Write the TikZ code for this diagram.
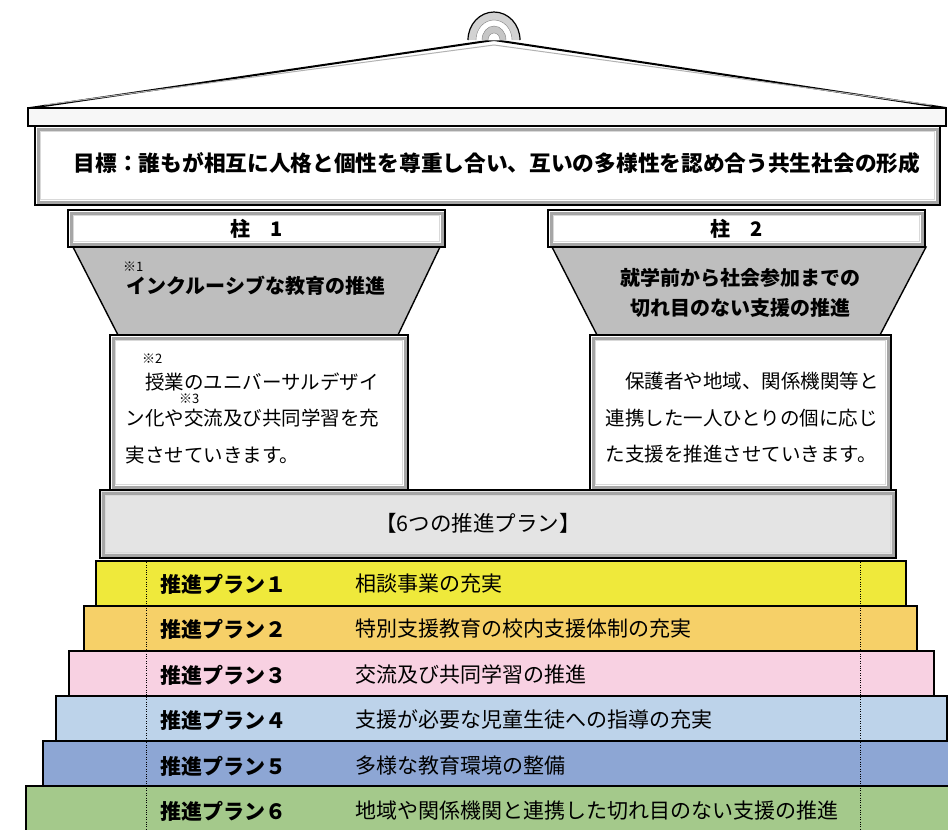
\documentclass[tikz,border=0pt]{standalone}
\usepackage{fontspec}
\newfontfamily\jp{Noto Sans CJK JP}
\usetikzlibrary{positioning}

\definecolor{planyellow}{HTML}{EFE93B}
\definecolor{planorange}{HTML}{F6D068}
\definecolor{planpink}{HTML}{F8D1E2}
\definecolor{planlight}{HTML}{BDD3EA}
\definecolor{planblue}{HTML}{8DA6D4}
\definecolor{plangreen}{HTML}{A4C98B}
\definecolor{capgray}{HTML}{BEBEBE}
\definecolor{bargray}{HTML}{E4E4E4}

\tikzset{
  bevel/.style={draw=black, line width=1.6pt, fill=white, inner sep=0pt,
    path picture={
      \draw[gray!70, line width=3pt]
        ([shift={(3pt,-3pt)}]path picture bounding box.north west) rectangle
        ([shift={(-3pt,3pt)}]path picture bounding box.south east);
      \draw[gray!30, line width=1.5pt]
        ([shift={(5.5pt,-5.5pt)}]path picture bounding box.north west) rectangle
        ([shift={(-5.5pt,5.5pt)}]path picture bounding box.south east);
    }},
  stair/.style={draw=black, line width=1.6pt, anchor=north west, inner sep=0pt, minimum height=45pt},
  trap/.style={draw=black, line width=1.4pt, fill=capgray},
  plan/.style={anchor=west, font=\jp\bfseries\fontsize{21}{24}\selectfont},
  item/.style={anchor=west, font=\jp\fontsize{21}{24}\selectfont},
  head/.style={font=\jp\bfseries\fontsize{20}{30}\selectfont, align=center},
  body/.style={anchor=west, align=left, font=\jp\fontsize{19.5}{36.5}\selectfont},
  note/.style={anchor=west, inner sep=0pt, font=\jp\fontsize{13}{14}\selectfont},
}

\begin{document}
\begin{tikzpicture}[x=1pt, y=-1pt]
\useasboundingbox (0,0) rectangle (948,830);
\clip (0,0) rectangle (948,830);

\filldraw[fill=white, line width=2pt] (30,108) -- (494,40) -- (946,108);
\draw[gray!60, line width=1pt] (44,105) -- (494,45) -- (932,105);
\filldraw[fill=gray!35, line width=1.2pt] (468,40) arc (180:360:26 and 28);
\filldraw[fill=white, draw=gray] (476,40) arc (180:360:18 and 20);
\filldraw[fill=gray!45, draw=gray] (482,40) arc (180:360:12 and 14);
\filldraw[fill=white, draw=gray] (488,40) arc (180:360:6 and 7);

\draw[fill=gray!6, line width=1.8pt] (28,108) rectangle (946,126);

\node(goal) at (487.5, 165.5) [bevel, minimum width=905pt, minimum height=79pt] {};
\node(goaltxt) at (497, 163) [head, font=\jp\bfseries\fontsize{21.7}{26}\selectfont] {目標：誰もが相互に人格と個性を尊重し合い、互いの多様性を認め合う共生社会の形成};

\draw[trap] (73,247) -- (440,247) -- (398,335) -- (118,335) -- cycle;
\draw[trap] (552,247) -- (926,247) -- (880,335) -- (597,335) -- cycle;

\node(head1) at (256.5, 228.5) [bevel, head, minimum width=377pt, minimum height=37pt] {柱　1};
\node(head2) at (736.5, 228.5) [bevel, head, minimum width=377pt, minimum height=37pt] {柱　2};

\node(cap1) at (256, 286) [head] {インクルーシブな教育の推進};
\node(mark1) at (123, 267) [note] {※1};
\node(cap2) at (740, 293) [head] {就学前から社会参加までの\\切れ目のない支援の推進};

\node(body1) at (259, 412.5) [bevel, minimum width=298pt, minimum height=155pt] {};
\node(body2) at (740.5, 412.5) [bevel, minimum width=301pt, minimum height=155pt] {};
\node(body1txt) at (122, 418) [body] {　授業のユニバーサルデザイ\\ン化や交流及び共同学習を充\\実させていきます。};
\node(mark2) at (142, 359) [note] {※2};
\node(mark3) at (179, 399) [note] {※3};
\node(body2txt) at (602, 418) [body] {　保護者や地域、関係機関等と\\連携した一人ひとりの個に応じ\\た支援を推進させていきます。};

\node(plans) at (498, 524) [bevel, fill=bargray, minimum width=796pt, minimum height=68pt] {};
\node(planstxt) at (478, 523) [font=\jp\fontsize{21.5}{24}\selectfont] {【6つの推進プラン】};

\node(s1) at (95, 560) [stair, fill=planyellow, minimum width=810pt] {};
\node(s2) at (83, 605) [stair, fill=planorange, minimum width=833pt] {};
\node(s3) at (68, 650) [stair, fill=planpink, minimum width=865pt] {};
\node(s4) at (55, 695) [stair, fill=planlight, minimum width=891pt] {};
\node(s5) at (42, 740) [stair, fill=planblue, minimum width=918pt] {};
\node(s6) at (25, 785) [stair, fill=plangreen, minimum width=935pt, minimum height=50pt] {};

\coordinate(dl1) at (146, 560);
\coordinate(dl2) at (146, 830);
\coordinate(dr1) at (860, 560);
\coordinate(dr2) at (860, 830);
\draw[dotted, thin] (dl1) to (dl2);
\draw[dotted, thin] (dr1) to (dr2);

\node(p1) at (157, 584) [plan] {推進プラン１};
\node(i1) at (352, 584) [item] {相談事業の充実};
\node(p2) at (157, 629) [plan] {推進プラン２};
\node(i2) at (352, 629) [item] {特別支援教育の校内支援体制の充実};
\node(p3) at (157, 675) [plan] {推進プラン３};
\node(i3) at (352, 675) [item] {交流及び共同学習の推進};
\node(p4) at (157, 720) [plan] {推進プラン４};
\node(i4) at (352, 720) [item] {支援が必要な児童生徒への指導の充実};
\node(p5) at (157, 766) [plan] {推進プラン５};
\node(i5) at (352, 766) [item] {多様な教育環境の整備};
\node(p6) at (157, 811) [plan] {推進プラン６};
\node(i6) at (352, 811) [item] {地域や関係機関と連携した切れ目のない支援の推進};

\end{tikzpicture}
\end{document}
